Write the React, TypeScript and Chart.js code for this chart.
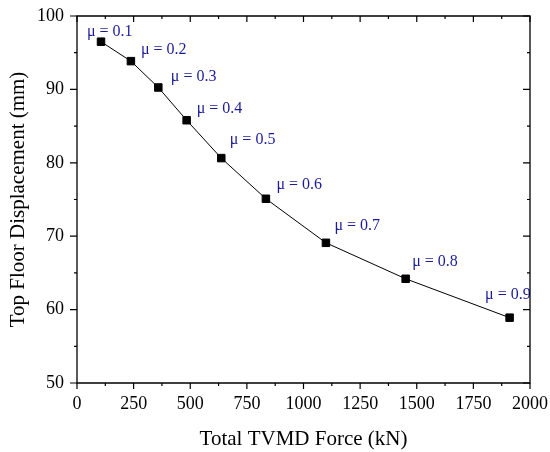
import React, { useEffect, useRef } from 'react';
import { Chart, registerables } from 'chart.js';

Chart.register(...registerables);

// ---- data ----
const forceKN = [106, 238, 359, 484, 637, 834, 1099, 1451, 1910];
const displacementMM = [96.5, 93.85, 90.26, 85.8, 80.64, 75.1, 69.1, 64.2, 58.9];
const muValues = [0.1, 0.2, 0.3, 0.4, 0.5, 0.6, 0.7, 0.8, 0.9];
const xAxisTitle = 'Total TVMD Force (kN)';
const yAxisTitle = 'Top Floor Displacement (mm)';

// ---- styling ----
const SERIF = "'Liberation Serif', 'Times New Roman', serif";
const LABEL_COLOR = '#1c1c96';
// label placement relative to each marker (x: text start, y: text centre)
const labelOffsets = [
  [-14, -10], [10, -11], [12.5, -10.5], [10, -11], [8.5, -18.5],
  [10.5, -14], [8.5, -17.5], [6.5, -16.5], [-24.5, -22.5],
];

const muLabelsPlugin = {
  id: 'muLabels',
  afterDatasetsDraw(chart: any) {
    const meta = chart.getDatasetMeta(0);
    const ctx = chart.ctx;
    ctx.save();
    ctx.font = `16px ${SERIF}`;
    ctx.fillStyle = LABEL_COLOR;
    ctx.textAlign = 'left';
    ctx.textBaseline = 'middle';
    meta.data.forEach((pt: any, i: number) => {
      const [dx, dy] = labelOffsets[i];
      ctx.fillText(`\u03bc = ${muValues[i].toFixed(1)}`, pt.x + dx, pt.y + dy);
    });
    ctx.restore();
  },
};

const frameTicksPlugin = {
  id: 'frameTicks',
  afterDraw(chart: any) {
    const { ctx, chartArea } = chart;
    const { left, right, top, bottom } = chartArea;
    const xs = chart.scales.x;
    const ys = chart.scales.y;
    ctx.save();
    ctx.strokeStyle = '#000';
    ctx.lineWidth = 1.3;
    ctx.beginPath();
    ctx.rect(left, top, right - left, bottom - top);
    ctx.stroke();
    ctx.lineWidth = 1.2;
    ctx.beginPath();
    for (let v = 0; v <= 2000; v += 125) {
      const major = v % 250 === 0;
      const len = major ? 6 : 3;
      const px = xs.getPixelForValue(v);
      ctx.moveTo(px, bottom);
      ctx.lineTo(px, bottom + len);
      ctx.moveTo(px, top);
      ctx.lineTo(px, top + len);
    }
    for (let v = 50; v <= 100; v += 5) {
      const major = v % 10 === 0;
      const len = major ? 7 : 3;
      const py = ys.getPixelForValue(v);
      ctx.moveTo(left, py);
      ctx.lineTo(left - len, py);
      ctx.moveTo(right, py);
      ctx.lineTo(right - len, py);
    }
    ctx.stroke();
    ctx.restore();
  },
};

export default function App() {
  const ref = useRef<HTMLCanvasElement>(null);

  useEffect(() => {
    if (!ref.current) return;
    const chart = new Chart(ref.current, {
      type: 'line',
      data: {
        datasets: [
          {
            data: forceKN.map((x, i) => ({ x, y: displacementMM[i] })),
            borderColor: '#000',
            borderWidth: 1,
            backgroundColor: '#000',
            pointStyle: 'rect',
            pointRadius: 5.3,
            pointBorderWidth: 1,
            pointBorderColor: '#000',
            pointBackgroundColor: '#000',
            tension: 0,
            clip: false as any,
          },
        ],
      },
      options: {
        responsive: false,
        animation: false,
        events: [],
        layout: { padding: { top: 16, right: 20, left: 0, bottom: 0 } },
        plugins: {
          legend: { display: false },
          tooltip: { enabled: false },
          title: { display: false },
        },
        scales: {
          x: {
            type: 'linear',
            min: 0,
            max: 2000,
            grid: { display: false, drawTicks: false, tickLength: 0 },
            border: { display: false },
            ticks: {
              stepSize: 250,
              autoSkip: false,
              maxRotation: 0,
              padding: 10.5,
              color: '#000',
              font: { family: SERIF, size: 18 },
              callback: (v: any) => String(v),
            },
            title: {
              display: true,
              text: xAxisTitle,
              color: '#000',
              font: { family: SERIF, size: 21, lineHeight: 1 },
              padding: { top: 0, bottom: 2 },
            },
            afterFit: (s: any) => {
              s.height = 69;
              s.paddingLeft = 0;
              s.paddingRight = 0;
            },
          },
          y: {
            type: 'linear',
            min: 50,
            max: 100,
            grid: { display: false, drawTicks: false, tickLength: 0 },
            border: { display: false },
            ticks: {
              stepSize: 10,
              padding: 13,
              color: '#000',
              font: { family: SERIF, size: 18 },
              callback: (v: any) => String(v),
            },
            title: {
              display: true,
              text: yAxisTitle,
              color: '#000',
              font: { family: SERIF, size: 21, lineHeight: 1 },
              padding: { top: 8, bottom: 0 },
            },
            afterFit: (s: any) => {
              s.width = 77;
              s.paddingTop = 0;
              s.paddingBottom = 0;
            },
          },
        },
      },
      plugins: [frameTicksPlugin, muLabelsPlugin],
    });
    return () => chart.destroy();
  }, []);

  return (
    <div style={{ position: 'absolute', left: 0, top: 0, width: 550, height: 452, background: '#fff' }}>
      <canvas ref={ref} width={550} height={452} style={{ display: 'block' }} />
    </div>
  );
}
